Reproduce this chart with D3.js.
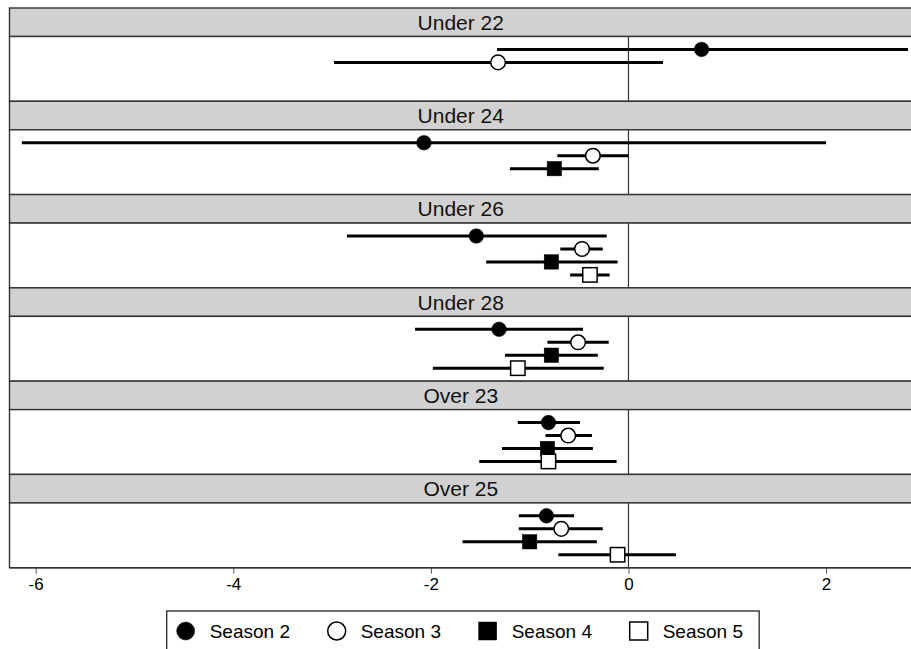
<!DOCTYPE html>
<html>
<head>
<meta charset="utf-8">
<script src="https://cdn.jsdelivr.net/npm/d3@7"></script>
<style>
  body { margin: 0; background: #fff; }
  text { font-family: "Liberation Sans", Arial, sans-serif; }
</style>
</head>
<body>
<div id="chart"></div>
<script>
// panels, top to bottom
var groups = ["Under 22", "Under 24", "Under 26", "Under 28", "Over 23", "Over 25"];
var seasons = ["Season 2", "Season 3", "Season 4", "Season 5"];
var xTicks = [-6, -4, -2, 0, 2];

// point estimates, one row per group, one column per season (null = not estimated)
var estimates = [
  [0.74, -1.32, null, null],
  [-2.07, -0.36, -0.75, null],
  [-1.54, -0.47, -0.78, -0.39],
  [-1.31, -0.51, -0.78, -1.12],
  [-0.81, -0.61, -0.82, -0.81],
  [-0.83, -0.68, -1.00, -0.11]
];
var lower = [
  [-1.33, -2.98, null, null],
  [-6.14, -0.72, -1.20, null],
  [-2.85, -0.69, -1.44, -0.59],
  [-2.16, -0.82, -1.25, -1.98],
  [-1.12, -0.84, -1.28, -1.51],
  [-1.11, -1.11, -1.68, -0.71]
];
var upper = [
  [2.83, 0.35, null, null],
  [2.00, 0.00, -0.30, null],
  [-0.22, -0.26, -0.11, -0.19],
  [-0.46, -0.20, -0.31, -0.25],
  [-0.49, -0.37, -0.36, -0.12],
  [-0.55, -0.26, -0.32, 0.48]
];

var width = 911, height = 649;
var plotLeft = 9.5, plotRight = 912, plotTop = 8, plotBottom = 567.7;
var stripH = 28.5;
var lineCol = "#333";

var svg = d3.select("#chart").append("svg")
    .attr("width", width)
    .attr("height", height);

var x = d3.scaleLinear().domain([-6.265, 2.87]).range([plotLeft, plotRight]);
var block = d3.scaleBand().domain(groups).range([plotTop, plotBottom]);

var rows = [];
groups.forEach(function(g, gi) {
  seasons.forEach(function(s, si) {
    if (estimates[gi][si] != null)
      rows.push({group: g, season: s, si: si, est: estimates[gi][si], lo: lower[gi][si], hi: upper[gi][si]});
  });
});

var panels = svg.selectAll('.panel')
    .data(groups)
    .enter()
    .append('g')
    .attr('class', 'panel')
    .attr('transform', function(d) { return 'translate(0,' + block(d) + ')'; });

// strip
panels.append('rect')
    .attr('x', plotLeft).attr('y', 0)
    .attr('width', plotRight - plotLeft).attr('height', stripH)
    .style('fill', '#d1d1d1')
    .style('stroke', lineCol).style('stroke-width', 1.4);

panels.append('text')
    .attr('x', (plotLeft + plotRight) / 2)
    .attr('y', stripH / 2 + 7.5)
    .attr('text-anchor', 'middle')
    .style('font-size', '21px')
    .style('fill', '#111')
    .text(function(d) { return d; });

// panel body
panels.append('rect')
    .attr('x', plotLeft).attr('y', stripH)
    .attr('width', plotRight - plotLeft).attr('height', block.bandwidth() - stripH)
    .style('fill', '#fff')
    .style('stroke', lineCol).style('stroke-width', 1.4);

// zero reference line
panels.append('line')
    .attr('x1', x(0)).attr('x2', x(0))
    .attr('y1', stripH).attr('y2', block.bandwidth())
    .style('stroke', lineCol).style('stroke-width', 1.2);

var yRow = d3.scalePoint().domain(seasons).range([stripH, block.bandwidth()]).padding(1);

var marks = svg.selectAll('.mark')
    .data(rows)
    .enter()
    .append('g')
    .attr('class', 'mark')
    .attr('transform', function(d) { return 'translate(0,' + (block(d.group) + yRow(d.season)) + ')'; });

marks.append('line')
    .attr('x1', function(d) { return x(d.lo); })
    .attr('x2', function(d) { return x(d.hi); })
    .style('stroke', '#000').style('stroke-width', 3);

function drawMarker(sel, si, r) {
  var filled = (si == 0 || si == 2);
  var shape;
  if (si < 2) {
    shape = sel.append('circle').attr('r', r);
  } else {
    shape = sel.append('rect').attr('x', -r).attr('y', -r).attr('width', 2 * r).attr('height', 2 * r);
  }
  shape.style('fill', filled ? '#000' : '#fff')
       .style('stroke', '#000')
       .style('stroke-width', filled ? 0.5 : 1.5);
}

marks.each(function(d) {
  var g = d3.select(this).append('g').attr('transform', 'translate(' + x(d.est) + ',0)');
  drawMarker(g, d.si, d.si < 2 ? 7.3 : 7.2);
});

// x axis
var axis = svg.append('g')
    .attr('transform', 'translate(0,' + plotBottom + ')')
    .call(d3.axisBottom(x).tickValues(xTicks).tickSize(6).tickPadding(4).tickFormat(d3.format('d')));
axis.select('.domain').remove();
axis.selectAll('.tick line').style('stroke', '#555');
axis.selectAll('.tick text')
    .style('font-size', '17px')
    .style('fill', '#000')
    .style('font-family', '"Liberation Sans", Arial, sans-serif')
    .text(function(d) { return d < 0 ? '-' + Math.abs(d) : d; });

svg.append('line')
    .attr('x1', plotLeft).attr('x2', plotRight)
    .attr('y1', plotBottom).attr('y2', plotBottom)
    .style('stroke', lineCol).style('stroke-width', 1.6);

// legend
var legendLeft = 166.7, legendTop = 611, legendW = 592.5;
svg.append('rect')
    .attr('x', legendLeft).attr('y', legendTop)
    .attr('width', legendW).attr('height', 60)
    .style('fill', '#fff')
    .style('stroke', lineCol).style('stroke-width', 1.4);

var legend = svg.selectAll('.legend')
    .data(seasons)
    .enter()
    .append('g')
    .attr('class', 'legend')
    .attr('transform', function(d, i) { return 'translate(' + (legendLeft + 19 + i * 151) + ',631)'; });

legend.each(function(d, i) {
  drawMarker(d3.select(this), i, 9);
});

legend.append('text')
    .attr('x', 24)
    .attr('y', 7)
    .style('font-size', '19px')
    .style('fill', '#000')
    .text(function(d) { return d; });
</script>
</body>
</html>
